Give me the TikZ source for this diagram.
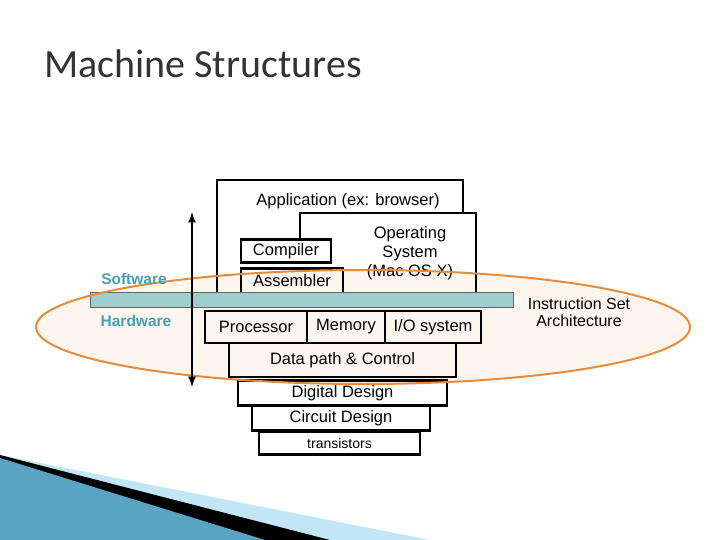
\documentclass[tikz,border=0pt]{standalone}
\usepackage{fontspec}
\setmainfont{Liberation Sans}
\newfontfamily\titlefont{Carlito}
\usetikzlibrary{positioning}
\definecolor{swtext}{RGB}{70,160,180}
\definecolor{isafill}{RGB}{160,205,205}
\definecolor{ovalline}{RGB}{230,140,60}
\definecolor{ovalfill}{RGB}{253,246,238}
\tikzset{%
  layer/.style = {draw, line width=2.2pt, rectangle, inner sep=0pt},
  lbl/.style   = {inner sep=0pt, font=\fontsize{16.5}{19}\selectfont},
  side/.style  = {inner sep=0pt, font=\bfseries\fontsize{15.5}{17}\selectfont, text=swtext}
}
\begin{document}
\begin{tikzpicture}[x=1pt, y=-1pt, >=latex]
  \useasboundingbox (0,0) rectangle (720,540);

  % background swoosh
  \fill[black!10!cyan!25] (0,455) -- (430,540) -- (0,540) -- cycle;
  \fill[black] (0,455) -- (330,540) -- (0,540) -- cycle;
  \fill[cyan!70!black!80] (0,458) -- (265,540) -- (0,540) -- cycle;

  \node[anchor=west, inner sep=0pt, font=\titlefont\fontsize{40}{42}\selectfont,
    text=black!80] (title) at (44,64) {Machine Structures};

  % the oval
  \fill[ovalfill] (363,327) ellipse [x radius=327, y radius=57];

  % layers
  \draw[layer] (217,293) -- (217,180) -- (463,180) -- (463,213);
  \node[lbl] (app) at (348,201) {Application (ex: browser)};
  \draw[layer] (300,239) -- (300,213) -- (476,213) -- (476,293);
  \node[lbl, align=center] (os) at (410,253) {Operating\\System\\(Mac OS X)};
  \node[layer, minimum width=90, minimum height=23] (comp) at (286,251) {};
  \node[lbl] at (comp) {Compiler};
  \node[layer, minimum width=102, minimum height=25] (asm) at (292,281) {};
  \node[lbl] at (asm) {Assembler};

  \node[draw=black!60, fill=isafill, minimum width=423, minimum height=15,
    inner sep=0pt] (isa) at (301.5,300) {};

  \node[layer, minimum width=102, minimum height=32] (proc) at (256,327) {};
  \node[lbl] at (proc) {Processor};
  \node[layer, minimum width=78, minimum height=32] (mem) at (346,327) {};
  \node[lbl] at (mem) {Memory};
  \node[layer, minimum width=96, minimum height=32] (io) at (433,327) {};
  \node[lbl] at (io) {I/O system};
  \node[layer, minimum width=227, minimum height=34] (dp) at (342.5,360) {};
  \node[lbl] at (dp) {Data path \& Control};
  \node[layer, minimum width=209, minimum height=25] (dd) at (342.5,393) {};
  \node[lbl] at (dd) {Digital Design};
  \node[layer, minimum width=178, minimum height=25] (cd) at (341,418) {};
  \node[lbl] at (cd) {Circuit Design};
  \node[layer, minimum width=161, minimum height=23] (tr) at (339.5,443) {};
  \node[lbl, font=\fontsize{14}{16}\selectfont] at (tr) {transistors};

  \draw[ovalline, line width=2pt] (363,327) ellipse [x radius=327, y radius=57];

  % side labels and arrow
  \node[side] (sw) at (134,279) {Software};
  \node[side] (hw) at (136,321) {Hardware};
  \coordinate (top) at (192,212);
  \coordinate (bot) at (192,387);
  \draw[<->, line width=2.5pt] (top) -- (bot);
  \node[lbl, align=center, font=\fontsize{16}{17}\selectfont] (isatext)
    at (579,312) {Instruction Set\\Architecture};
\end{tikzpicture}
\end{document}
